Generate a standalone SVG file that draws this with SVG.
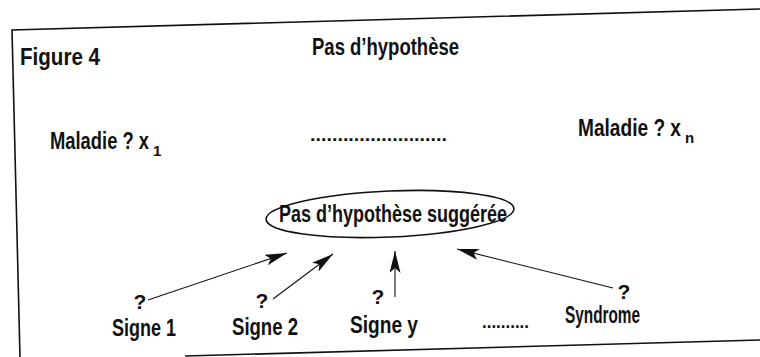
<svg xmlns="http://www.w3.org/2000/svg" width="760" height="357" viewBox="0 0 760 357">
<defs>
<style>
.t{font-family:"Liberation Sans",Arial,sans-serif;font-weight:bold;font-size:23px;fill:#111}
.q{font-size:21px}
.sub{font-size:15px}
.dots{font-size:18px}
.frame{fill:none;stroke:#111;stroke-width:1.6}
.arr{fill:none;stroke:#111;stroke-width:1.1;marker-end:url(#ah)}
</style>
<marker id="ah" markerWidth="23" markerHeight="11" refX="22" refY="5.5" orient="auto" markerUnits="userSpaceOnUse">
<path d="M0,0 L22,5.5 L0,11 L5,5.5 Z" fill="#111"/>
</marker>
</defs>
<rect width="760" height="357" fill="#fff"/>
<g id="frame">
<polyline class="frame" points="760,9 12,30 20,357"/>
<line class="frame" x1="185" y1="356" x2="760" y2="340"/>
</g>
<g id="title">
<text class="t" x="20" y="65" textLength="80" lengthAdjust="spacingAndGlyphs">Figure 4</text>
<text class="t" x="312" y="55" textLength="147" lengthAdjust="spacingAndGlyphs">Pas d’hypothèse</text>
</g>
<g id="maladie1">
<text class="t" x="50" y="149" textLength="99" lengthAdjust="spacingAndGlyphs">Maladie ? x</text>
<text class="t sub" x="153" y="156">1</text>
</g>
<g id="dots-top"><text class="t dots" x="310" y="141" textLength="137" lengthAdjust="spacingAndGlyphs">.........................</text></g>
<g id="maladien">
<text class="t" x="578" y="136" textLength="103" lengthAdjust="spacingAndGlyphs">Maladie ? x</text>
<text class="t sub" x="685" y="143">n</text>
</g>
<g id="hypothese">
<ellipse cx="390" cy="214" rx="124" ry="23" fill="none" stroke="#111" stroke-width="1.6" transform="rotate(-2.5 390 214)"/>
<text class="t" x="279" y="222" textLength="228" lengthAdjust="spacingAndGlyphs">Pas d’hypothèse suggérée</text>
</g>
<g id="signe1">
<text class="t q" x="140" y="309" text-anchor="middle">?</text>
<text class="t" x="112" y="336" textLength="64" lengthAdjust="spacingAndGlyphs">Signe 1</text>
</g>
<g id="signe2">
<text class="t q" x="262" y="308" text-anchor="middle">?</text>
<text class="t" x="232" y="335" textLength="66" lengthAdjust="spacingAndGlyphs">Signe 2</text>
</g>
<g id="signey">
<text class="t q" x="378" y="304" text-anchor="middle">?</text>
<text class="t" x="350" y="333" textLength="68" lengthAdjust="spacingAndGlyphs">Signe y</text>
</g>
<g id="dots-bottom"><text class="t dots" x="482" y="328" textLength="47" lengthAdjust="spacingAndGlyphs">..........</text></g>
<g id="syndrome">
<text class="t q" x="624" y="299" text-anchor="middle">?</text>
<text class="t" x="565" y="323" textLength="75" lengthAdjust="spacingAndGlyphs">Syndrome</text>
</g>
<g id="connectors">
<line class="arr" x1="148" y1="300" x2="287" y2="253"/>
<line class="arr" x1="273" y1="299" x2="333" y2="254"/>
<line class="arr" x1="395" y1="297" x2="395" y2="251"/>
<line class="arr" x1="613" y1="288" x2="457" y2="249"/>
</g>
</svg>
